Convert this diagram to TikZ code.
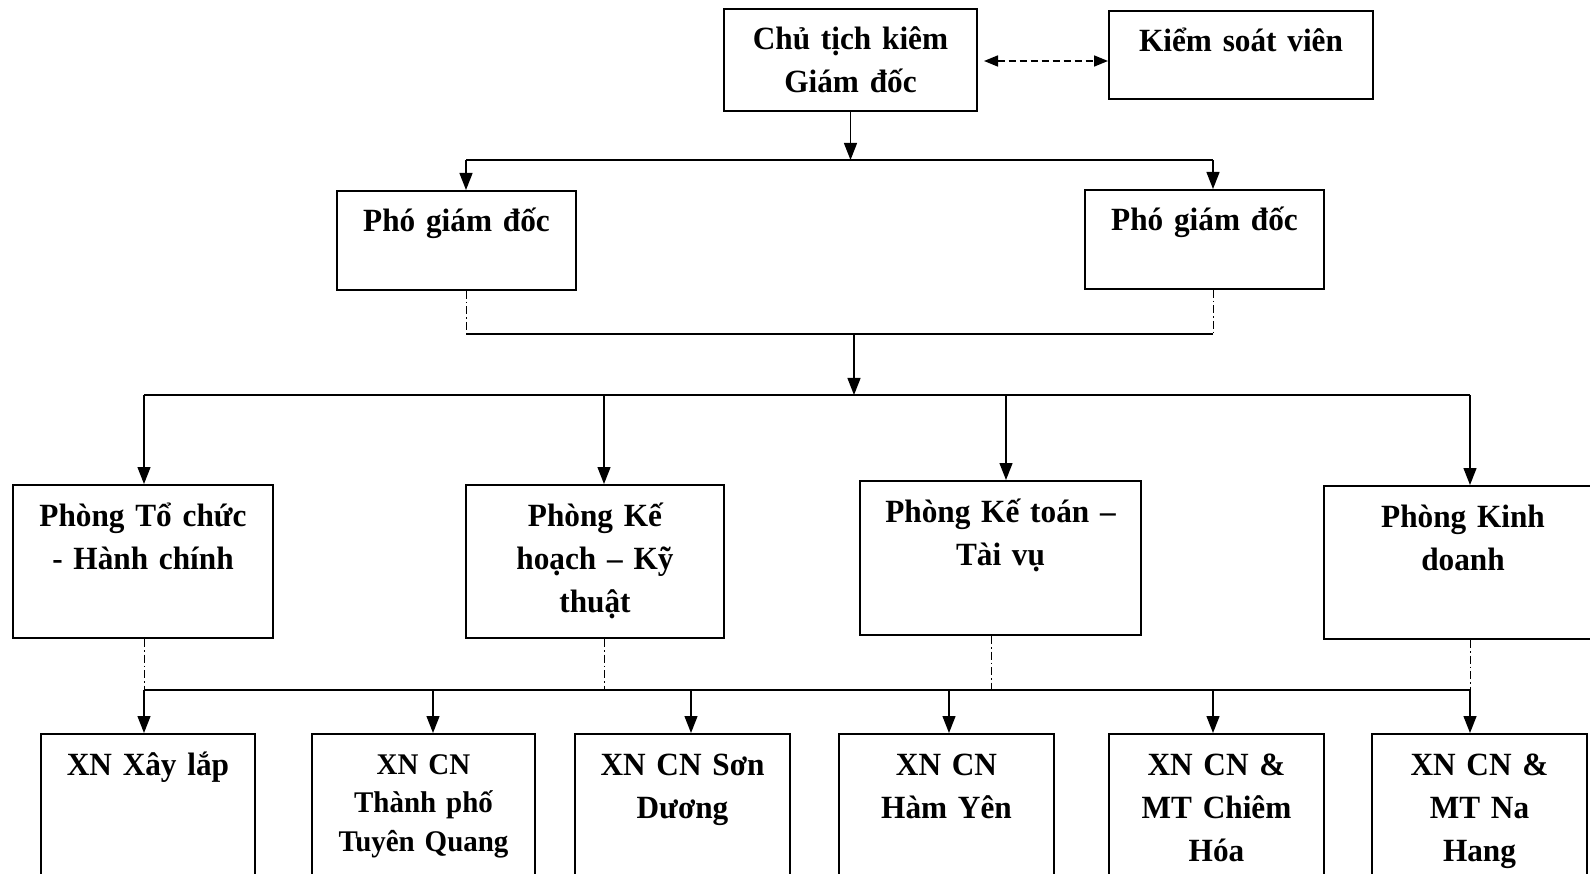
\documentclass[tikz,border=0pt]{standalone}
\usepackage{fontspec}
\setmainfont{Liberation Serif}[FakeStretch=0.965]
\usetikzlibrary{arrows.meta}

\tikzset{
  box/.style={draw, line width=2pt, inner sep=0pt, anchor=north, align=center,
    font=\bfseries\fontsize{32.4}{43}\selectfont, text height=41pt},
  link/.style={line width=1.3pt},
  arr/.style={-{Triangle[length=17pt,width=13pt]}},
  biarr/.style={line width=1.6pt, dash pattern=on 7pt off 4pt,
    {Triangle[length=14pt,width=11pt]}-{Triangle[length=14pt,width=11pt]}},
  dashdot/.style={line width=1pt, dash pattern=on 8pt off 3pt on 1.5pt off 3pt}
}

\begin{document}
\begin{tikzpicture}[x=1pt, y=-1pt]
    \useasboundingbox (0,0) rectangle (1590,874);
    \clip (0,0) rectangle (1590,874);

    % ban giam doc
    \node[box, text width=253pt, text depth=61pt] (ct) at (850.5,8) {Chủ tịch kiêm\\Giám đốc};
    \node[box, text width=264pt, text depth=47pt] (ksv) at (1241,10) {Kiểm soát viên};
    \node[box, text width=239pt, text depth=58pt] (pgdL) at (456.5,190) {Phó giám đốc};
    \node[box, text width=239pt, text depth=58pt] (pgdR) at (1204.5,189) {Phó giám đốc};

    % phong ban
    \node[box, text width=260pt, text depth=112pt] (ptc) at (143,484) {Phòng Tổ chức\\- Hành chính};
    \node[box, text width=258pt, text depth=112pt] (pkh) at (595,484) {Phòng Kế\\hoạch – Kỹ\\thuật};
    \node[box, text width=281pt, text depth=113pt] (pkt) at (1000.5,480) {Phòng Kế toán –\\Tài vụ};
    \node[box, text width=278pt, text depth=112pt] (pkd) at (1463,485) {Phòng Kinh\\doanh};

    % xi nghiep
    \node[box, text width=214pt, text depth=118pt] (xl) at (148,733) {XN Xây lắp};
    \node[box, text width=223pt, text depth=120pt, text height=40pt,
      font=\bfseries\fontsize{30}{38.5}\selectfont] (tp) at (423.5,733) {XN CN\\Thành phố\\Tuyên Quang};
    \node[box, text width=215pt, text depth=118pt] (sd) at (682.5,733) {XN CN Sơn\\Dương};
    \node[box, text width=215pt, text depth=118pt] (hy) at (946.5,733) {XN CN\\Hàm Yên};
    \node[box, text width=215pt, text depth=118pt] (ch) at (1216.5,733) {XN CN \&\\MT Chiêm\\Hóa};
    \node[box, text width=215pt, text depth=118pt] (nh) at (1479.5,733) {XN CN \&\\MT Na\\Hang};

    \coordinate (ctx) at (977,61);
    \draw[biarr, shorten <=7pt] (ctx) -- (ctx -| ksv.west);

    % tu giam doc xuong pho giam doc
    \coordinate (topL) at (466,160);
    \coordinate (topR) at (1213,160);
    \draw[link, arr] (ct) -- (ct |- topL);
    \draw[link] (topL) -- (topR);
    \draw[link, arr] (topL) -- (topL |- pgdL.north);
    \draw[link, arr] (topR) -- (topR |- pgdR.north);

    % tu pho giam doc xuong phong ban
    \coordinate (midL) at (466,334);
    \coordinate (midR) at (1213,334);
    \coordinate (midC) at (854,334);
    \coordinate (depL) at (144,395);
    \coordinate (depR) at (1470,395);
    \draw[dashdot] (midL |- pgdL.south) -- (midL);
    \draw[dashdot] (midR |- pgdR.south) -- (midR);
    \draw[link] (midL) -- (midR);
    \draw[link, arr] (midC) -- (midC |- depL);
    \draw[link] (depL) -- (depR);
    \foreach \n/\x in {ptc/144, pkh/604, pkt/1006, pkd/1470}
      \draw[link, arr] (depL -| \x,0) -- (\x,0 |- \n.north);

    % tu phong ban xuong xi nghiep
    \coordinate (unitL) at (144,690);
    \coordinate (unitR) at (1470,690);
    \foreach \n/\x in {ptc/144, pkh/604, pkt/991, pkd/1470}
      \draw[dashdot] (\x,0 |- \n.south) -- (unitL -| \x,0);
    \draw[link] (unitL) -- (unitR);
    \foreach \n/\x in {xl/144, tp/433, sd/691, hy/949, ch/1213, nh/1470}
      \draw[link, arr] (unitL -| \x,0) -- (\x,0 |- \n.north);
\end{tikzpicture}
\end{document}
